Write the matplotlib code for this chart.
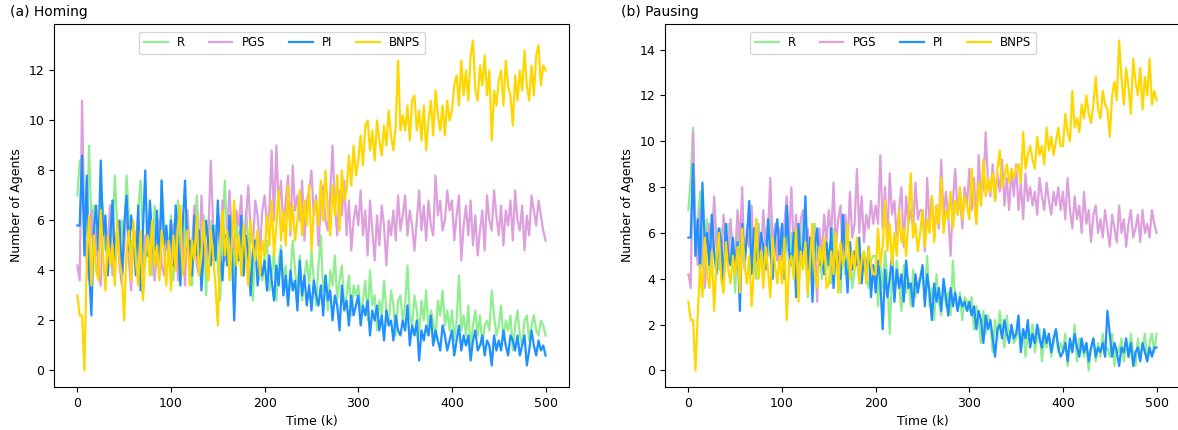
import numpy as np
import matplotlib
matplotlib.use("Agg")
import matplotlib.pyplot as plt

# values, one every 2.5 k (rows = 50 k each, last value at k = 500)

# --- (a) Homing ---
homing_r = [
    7.0, 8.4, 8.4, 6.2, 5.4, 9.0, 5.8, 6.6, 4.6, 5.4, 7.2, 6.4, 4.8, 5.0, 6.6, 5.2, 7.8, 5.8, 4.6, 6.0,
    5.2, 7.8, 6.2, 4.4, 5.6, 5.0, 6.4, 7.6, 5.4, 4.2, 6.0, 5.6, 3.8, 6.6, 5.8, 4.6, 7.6, 6.0, 5.2, 4.8,
    6.2, 3.6, 5.4, 6.8, 5.0, 4.4, 6.0, 6.4, 4.8, 3.4, 5.6, 7.0, 5.2, 4.6, 6.2, 3.0, 5.4, 6.0, 4.4, 5.8,
    4.2, 2.8, 5.6, 7.6, 5.0, 4.4, 5.8, 3.6, 6.2, 4.8, 5.4, 3.8, 6.4, 5.2, 4.4, 2.8, 5.0, 5.6, 4.0, 3.6,
    4.6, 5.2, 3.2, 3.8, 4.8, 2.8, 4.4, 5.0, 3.6, 4.2, 2.6, 3.8, 5.2, 4.0, 3.2, 4.6, 2.8, 3.8, 4.4, 3.4,
    4.8, 3.6, 2.6, 4.2, 5.4, 3.2, 3.8, 2.4, 4.0, 3.4, 4.6, 2.8, 3.6, 4.2, 2.6, 3.0, 3.8, 2.2, 3.4, 3.0,
    3.4, 2.4, 2.8, 3.6, 2.0, 4.0, 2.6, 3.0, 1.6, 2.8, 2.2, 3.6, 2.4, 1.8, 3.2, 2.6, 1.4, 2.8, 3.0, 2.0,
    2.6, 4.2, 2.2, 1.8, 3.0, 2.4, 1.4, 2.8, 2.0, 3.2, 1.6, 2.4, 2.0, 1.2, 2.8, 2.2, 3.2, 1.8, 2.4, 1.6,
    2.4, 1.2, 2.0, 3.8, 1.6, 2.2, 1.4, 2.6, 0.8, 1.8, 2.4, 1.4, 2.2, 1.0, 1.8, 2.0, 1.6, 3.2, 2.2, 1.4,
    1.8, 2.6, 1.2, 2.0, 1.6, 2.2, 0.8, 1.8, 2.4, 1.4, 1.0, 2.0, 2.2, 1.2, 1.8, 2.2, 1.6, 1.4, 2.0, 1.8,
    1.4]
homing_pgs = [
    4.2, 3.6, 10.8, 5.8, 4.4, 3.6, 6.4, 4.8, 5.6, 4.0, 3.4, 6.2, 5.2, 4.6, 6.6, 3.8, 4.8, 5.6, 4.2, 3.4,
    5.0, 6.8, 4.4, 3.2, 5.8, 5.0, 6.2, 4.0, 3.0, 5.4, 4.6, 6.4, 5.2, 3.6, 4.8, 6.0, 4.2, 3.8, 5.6, 4.4,
    4.0, 5.8, 6.0, 3.6, 4.8, 5.4, 3.4, 6.4, 4.6, 5.0, 6.6, 4.2, 3.8, 7.0, 5.0, 4.4, 5.6, 8.4, 5.8, 4.6,
    6.2, 5.0, 6.8, 4.4, 5.6, 7.2, 5.4, 4.8, 6.4, 5.8, 7.0, 4.8, 6.0, 7.4, 5.6, 5.0, 6.8, 6.2, 4.8, 6.4,
    7.0, 5.8, 6.4, 8.8, 6.0, 9.0, 6.6, 7.6, 5.6, 6.8, 7.8, 5.4, 8.2, 6.4, 7.0, 6.0, 7.6, 5.2, 6.8, 7.2,
    8.0, 6.2, 7.0, 5.0, 6.6, 7.4, 6.0, 5.6, 7.0, 9.0, 6.6, 5.4, 7.2, 6.2, 7.6, 5.4, 6.8, 4.8, 6.0, 6.6,
    5.8, 7.2, 5.4, 6.4, 4.6, 6.8, 5.6, 4.4, 6.2, 5.0, 6.6, 5.8, 4.2, 6.0, 5.4, 6.4, 5.2, 7.0, 5.6, 6.2,
    7.0, 5.4, 6.4, 5.8, 4.8, 6.0, 7.2, 5.6, 6.6, 5.2, 6.8, 5.8, 5.4, 7.8, 6.2, 6.8, 5.6, 6.0, 7.2, 6.4,
    6.8, 5.2, 6.2, 7.0, 4.4, 5.8, 6.6, 5.4, 6.8, 5.0, 6.2, 4.6, 5.6, 6.4, 4.8, 7.0, 6.0, 5.6, 7.2, 6.2,
    5.4, 6.6, 5.0, 6.4, 5.8, 6.8, 5.2, 7.2, 6.0, 5.6, 6.6, 4.8, 6.2, 5.4, 7.0, 6.4, 5.8, 6.8, 6.2, 5.6,
    5.2]
homing_pi = [
    5.8, 5.8, 8.6, 4.6, 7.8, 4.0, 2.2, 5.6, 6.6, 4.8, 8.4, 5.4, 6.2, 3.8, 5.2, 6.8, 4.4, 5.6, 6.0, 3.6,
    5.8, 7.0, 4.8, 6.2, 5.4, 3.8, 6.6, 3.2, 5.6, 8.0, 4.6, 6.8, 5.2, 4.4, 6.4, 3.8, 7.6, 5.0, 5.8, 4.4,
    6.0, 4.2, 6.6, 5.4, 3.4, 5.8, 7.6, 4.8, 5.2, 3.8, 6.2, 4.6, 5.6, 3.2, 4.8, 6.0, 5.0, 4.2, 5.8, 4.4,
    6.8, 4.6, 3.6, 5.4, 4.2, 6.2, 4.8, 2.0, 5.0, 4.4, 6.2, 3.8, 5.4, 4.6, 3.0, 4.8, 5.2, 3.4, 4.4, 3.8,
    4.4, 3.2, 4.6, 3.6, 2.8, 4.2, 3.4, 4.8, 3.0, 3.8, 2.6, 4.0, 3.2, 3.6, 2.4, 4.4, 3.0, 3.8, 2.6, 3.4,
    2.4, 3.6, 3.0, 2.6, 3.4, 2.2, 3.8, 2.8, 3.2, 2.0, 3.0, 2.6, 1.6, 3.4, 2.4, 2.8, 1.8, 3.0, 2.2, 2.6,
    3.0, 1.8, 2.6, 2.2, 2.8, 1.4, 2.4, 2.0, 2.6, 1.6, 2.2, 1.2, 2.4, 1.8, 2.0, 1.2, 2.2, 1.6, 1.4, 2.0,
    1.6, 2.6, 1.0, 1.8, 1.4, 2.0, 0.4, 1.6, 1.2, 1.8, 1.4, 2.2, 1.0, 1.6, 1.2, 0.8, 1.8, 1.4, 0.8, 1.2,
    1.6, 0.6, 1.2, 1.8, 0.8, 1.4, 1.0, 1.4, 0.4, 1.2, 1.6, 0.8, 1.0, 1.4, 0.6, 1.2, 1.0, 0.2, 1.4, 0.8,
    1.2, 0.8, 1.6, 1.0, 0.6, 1.4, 1.2, 0.8, 1.4, 0.6, 1.0, 1.4, 0.2, 0.8, 1.6, 1.0, 0.6, 1.2, 0.8, 1.0,
    0.6]
homing_bnps = [
    3.0, 2.2, 2.2, 0.0, 4.4, 6.2, 3.4, 5.4, 4.0, 3.6, 6.4, 4.6, 3.2, 5.4, 4.2, 5.0, 3.4, 6.0, 4.4, 3.8,
    2.0, 4.8, 5.6, 3.6, 6.0, 4.4, 3.4, 5.6, 2.8, 4.6, 5.4, 3.8, 6.0, 4.2, 5.0, 3.6, 5.6, 4.8, 3.4, 5.2,
    3.2, 5.4, 4.0, 5.8, 6.6, 3.8, 4.6, 5.6, 3.4, 5.2, 4.4, 6.2, 3.8, 4.8, 6.0, 4.2, 3.6, 5.6, 4.6, 3.4,
    1.8, 5.2, 6.4, 4.6, 5.6, 3.6, 5.0, 6.8, 4.2, 5.4, 3.8, 5.8, 4.6, 3.4, 6.0, 5.0, 4.4, 5.6, 3.8, 5.2,
    4.6, 6.2, 5.0, 6.8, 4.6, 5.8, 7.2, 5.2, 6.4, 5.0, 7.4, 5.6, 6.6, 5.2, 6.0, 7.2, 5.4, 6.8, 5.8, 7.4,
    4.8, 6.4, 6.8, 5.8, 7.6, 6.0, 8.0, 6.4, 5.4, 7.4, 6.2, 7.8, 5.6, 8.0, 6.8, 7.2, 8.6, 7.4, 9.0, 7.8,
    8.4, 9.4, 8.2, 9.8, 10.0, 8.8, 9.6, 8.4, 10.0, 9.2, 8.6, 9.8, 9.0, 10.4, 9.4, 8.8, 9.8, 12.4, 9.6, 10.2,
    9.6, 10.6, 9.2, 10.8, 11.0, 9.6, 10.4, 9.2, 10.6, 8.8, 10.0, 10.8, 9.4, 11.2, 10.2, 9.6, 10.6, 9.4, 10.8, 10.0,
    10.4, 11.4, 11.8, 10.6, 12.4, 11.0, 12.0, 10.8, 12.6, 13.2, 11.2, 10.8, 12.2, 11.4, 12.6, 11.0, 12.0, 9.2, 11.2, 10.6,
    11.6, 12.0, 10.6, 12.4, 11.4, 11.0, 9.8, 11.8, 10.8, 12.0, 11.2, 12.8, 11.4, 10.8, 12.2, 11.0, 12.6, 13.0, 11.4, 12.2,
    12.0]

# --- (b) Pausing ---
pausing_r = [
    7.0, 8.4, 10.6, 5.4, 6.6, 7.8, 4.6, 5.8, 6.6, 4.2, 5.0, 7.4, 5.6, 4.4, 6.2, 3.4, 5.8, 6.4, 4.8, 5.2,
    3.4, 6.4, 5.0, 6.8, 4.6, 5.8, 7.2, 4.4, 5.6, 4.0, 6.4, 5.2, 4.2, 6.2, 5.0, 6.8, 4.6, 5.4, 4.8, 6.0,
    4.8, 5.6, 7.4, 4.2, 6.0, 5.0, 3.6, 5.4, 4.6, 6.6, 5.2, 3.2, 5.8, 4.4, 6.4, 4.8, 5.4, 4.0, 5.6, 4.4,
    5.0, 3.8, 6.2, 4.6, 5.2, 3.4, 5.8, 4.2, 4.8, 5.6, 3.6, 4.4, 5.0, 3.8, 4.6, 5.2, 4.0, 3.6, 4.8, 5.0,
    5.0, 2.8, 4.6, 3.6, 5.2, 4.0, 1.6, 4.4, 3.2, 4.8, 3.8, 2.6, 4.6, 3.4, 4.0, 2.8, 4.4, 3.2, 3.8, 4.0,
    4.2, 3.2, 5.0, 2.8, 3.6, 2.2, 4.2, 3.0, 2.4, 3.8, 2.8, 3.4, 2.4, 4.8, 3.0, 2.6, 3.4, 2.2, 3.2, 3.0,
    2.6, 3.2, 1.8, 2.8, 2.2, 1.2, 2.6, 1.6, 2.4, 2.0, 0.8, 2.2, 1.4, 2.6, 1.8, 1.0, 2.4, 1.4, 1.8, 1.2,
    1.4, 2.0, 1.0, 1.8, 0.6, 1.6, 1.2, 2.0, 0.8, 1.4, 1.8, 0.4, 1.4, 1.0, 1.6, 0.6, 1.2, 1.8, 0.8, 1.2,
    0.8, 1.6, 0.2, 1.2, 0.8, 2.0, 0.4, 1.4, 1.0, 0.6, 1.2, 0.0, 1.0, 1.4, 0.4, 1.2, 0.6, 1.6, 0.8, 1.0,
    0.6, 1.6, 0.2, 1.0, 0.8, 1.4, 0.4, 1.2, 0.6, 1.6, 0.8, 0.2, 1.4, 0.6, 1.0, 1.6, 0.4, 1.2, 1.6, 0.8,
    1.6]
pausing_pgs = [
    4.2, 3.6, 10.4, 6.0, 4.6, 7.0, 5.2, 3.6, 5.8, 6.4, 4.8, 7.6, 5.4, 6.2, 4.2, 6.8, 5.6, 4.6, 6.6, 5.2,
    5.0, 7.0, 5.6, 8.0, 4.4, 6.2, 5.4, 7.2, 4.8, 6.6, 5.8, 4.6, 7.0, 5.2, 6.0, 8.4, 5.4, 6.4, 4.8, 6.2,
    4.8, 6.4, 7.6, 5.6, 8.0, 5.2, 6.8, 4.8, 6.6, 7.0, 5.4, 6.2, 4.8, 6.4, 5.6, 3.0, 6.2, 5.0, 6.8, 5.6,
    7.0, 5.8, 8.2, 5.4, 6.6, 7.2, 4.6, 6.8, 5.6, 7.8, 5.8, 6.4, 8.8, 6.0, 7.6, 5.6, 6.8, 6.2, 7.4, 6.4,
    7.2, 6.4, 9.4, 6.2, 8.0, 5.6, 8.6, 6.8, 7.4, 5.8, 7.0, 8.0, 5.4, 7.6, 6.4, 7.0, 6.2, 8.2, 6.6, 7.0,
    7.0, 5.2, 8.4, 6.4, 7.6, 5.8, 7.2, 6.2, 9.2, 6.6, 7.8, 6.8, 5.0, 7.4, 8.8, 6.8, 7.6, 6.2, 8.0, 7.2,
    8.8, 7.0, 8.4, 6.4, 9.4, 7.6, 8.0, 10.4, 8.2, 7.6, 9.0, 7.4, 8.6, 7.8, 9.2, 7.2, 8.4, 7.0, 8.8, 7.6,
    9.0, 7.0, 8.2, 6.6, 8.6, 7.4, 8.0, 7.2, 7.8, 6.8, 8.4, 7.6, 7.0, 8.2, 7.4, 6.8, 7.8, 7.2, 8.0, 7.0,
    7.8, 6.6, 8.4, 7.0, 6.2, 7.6, 6.6, 7.2, 6.0, 7.8, 6.4, 7.0, 5.6, 6.8, 7.2, 6.0, 6.6, 5.8, 7.0, 6.2,
    5.4, 6.8, 6.2, 5.6, 7.2, 6.0, 6.6, 5.4, 6.4, 7.0, 5.8, 6.2, 6.8, 5.6, 7.0, 6.0, 6.4, 5.8, 7.0, 6.4,
    6.0]
pausing_pi = [
    5.8, 5.8, 9.0, 5.0, 6.6, 4.4, 8.2, 5.4, 6.0, 4.6, 6.8, 5.2, 4.2, 6.2, 5.6, 3.8, 6.4, 5.0, 4.6, 5.8,
    4.4, 5.6, 2.6, 6.4, 4.8, 5.8, 7.4, 4.2, 6.2, 5.0, 4.6, 6.0, 5.4, 4.4, 6.6, 5.2, 4.0, 5.8, 6.6, 4.8,
    6.4, 4.0, 7.2, 5.2, 4.6, 6.0, 3.2, 6.4, 4.8, 5.4, 7.6, 4.4, 5.8, 3.0, 5.4, 6.2, 4.6, 5.0, 4.2, 5.6,
    4.6, 6.2, 3.6, 5.4, 4.8, 4.0, 6.8, 5.0, 3.4, 5.6, 4.4, 5.2, 4.6, 5.8, 3.8, 5.0, 4.2, 5.4, 3.2, 4.6,
    3.4, 4.8, 3.8, 1.8, 4.4, 3.2, 4.0, 5.0, 3.0, 4.4, 3.6, 4.2, 3.0, 4.8, 3.6, 3.8, 2.8, 4.2, 3.4, 4.0,
    4.6, 2.8, 4.2, 3.4, 2.2, 3.8, 3.0, 3.6, 2.6, 4.0, 3.2, 2.4, 3.6, 2.8, 3.4, 2.6, 3.2, 2.8, 3.0, 2.6,
    3.0, 2.4, 2.8, 1.8, 2.6, 2.2, 1.2, 2.4, 1.8, 2.2, 1.4, 0.6, 1.8, 2.0, 1.4, 2.2, 1.6, 1.2, 2.0, 1.4,
    1.6, 2.4, 0.8, 1.8, 1.4, 2.2, 1.0, 1.6, 1.2, 2.0, 1.4, 1.0, 1.8, 1.2, 1.6, 0.8, 1.4, 1.8, 1.0, 0.6,
    0.8, 1.2, 0.4, 1.4, 0.8, 1.6, 1.0, 0.6, 1.4, 0.8, 1.2, 0.4, 1.0, 1.4, 0.6, 1.0, 0.8, 1.2, 0.6, 2.6,
    1.6, 0.6, 1.2, 0.8, 0.2, 1.0, 0.8, 1.4, 0.6, 1.2, 0.2, 0.8, 1.0, 0.4, 1.2, 0.8, 0.4, 1.0, 0.6, 1.0,
    1.0]
pausing_bnps = [
    3.0, 2.2, 2.2, 0.0, 2.4, 4.6, 3.2, 5.8, 4.2, 3.6, 5.2, 2.6, 4.8, 6.0, 4.0, 3.4, 5.6, 4.4, 3.8, 5.0,
    4.2, 5.4, 3.4, 6.2, 4.6, 3.8, 5.0, 2.8, 4.4, 6.6, 4.0, 5.2, 3.6, 5.4, 4.4, 3.2, 5.8, 4.6, 3.8, 5.0,
    3.8, 5.8, 2.2, 4.6, 5.0, 4.0, 6.2, 3.0, 5.2, 4.4, 5.6, 3.4, 4.8, 6.4, 4.2, 3.6, 5.4, 4.6, 5.8, 3.6,
    3.8, 5.2, 4.2, 6.0, 3.4, 5.6, 4.6, 5.0, 6.4, 4.0, 5.2, 4.4, 5.8, 3.8, 4.8, 5.2, 3.8, 5.4, 4.6, 4.2,
    4.2, 6.2, 4.6, 5.4, 7.4, 5.2, 6.4, 4.6, 6.0, 5.0, 7.0, 5.6, 6.2, 5.0, 6.6, 8.6, 5.8, 6.4, 5.2, 6.0,
    7.0, 5.4, 6.6, 6.0, 7.6, 5.6, 7.2, 6.4, 8.4, 6.0, 7.0, 6.6, 7.8, 6.2, 7.4, 6.8, 8.0, 6.6, 7.6, 7.2,
    6.6, 8.8, 7.4, 6.4, 8.2, 7.2, 9.2, 7.6, 8.4, 7.8, 8.6, 7.4, 8.8, 9.6, 8.0, 8.4, 9.0, 8.2, 8.8, 8.4,
    8.8, 9.0, 8.2, 10.4, 8.8, 9.4, 9.8, 9.2, 8.8, 10.2, 9.4, 9.8, 9.0, 10.6, 9.6, 10.2, 9.4, 10.0, 10.6, 9.8,
    9.8, 11.2, 10.4, 10.0, 12.2, 10.6, 11.0, 10.4, 11.6, 11.0, 12.0, 11.2, 10.8, 11.6, 12.8, 11.4, 11.0, 12.2, 11.6, 11.4,
    10.2, 12.0, 12.6, 11.8, 14.4, 12.8, 11.6, 13.2, 12.4, 11.2, 13.6, 12.6, 12.0, 13.2, 11.4, 12.8, 12.0, 13.6, 11.6, 12.2,
    11.8]

labels = ["R", "PGS", "PI", "BNPS"]
colors = ["lightgreen", "plum", "dodgerblue", "gold"]

fig = plt.figure(figsize=(11.78, 4.3), dpi=100)
ax_a = fig.add_axes([0.0458, 0.1, 0.4372, 0.8442])
ax_b = fig.add_axes([0.5645, 0.1, 0.4372, 0.8442])

panels = [
    (ax_a, "(a) Homing", [homing_r, homing_pgs, homing_pi, homing_bnps]),
    (ax_b, "(b) Pausing", [pausing_r, pausing_pgs, pausing_pi, pausing_bnps]),
]
for ax, title, series in panels:
    for vals, lab, col in zip(series, labels, colors):
        t = np.linspace(0, 500, len(vals))
        ax.plot(t, vals, color=col, lw=1.6, label=lab)
    ax.set_title(title, loc="left", x=-0.085, fontsize=10)
    ax.set_xlabel("Time (k)", fontsize=9)
    ax.set_ylabel("Number of Agents", fontsize=9)
    ax.set_xticks([0, 100, 200, 300, 400, 500])
    ax.tick_params(labelsize=9)
    ax.legend(loc="upper center", bbox_to_anchor=(0.443, 0.995), ncol=4, fontsize=8.5)

fig.savefig("out.png", dpi=100)
